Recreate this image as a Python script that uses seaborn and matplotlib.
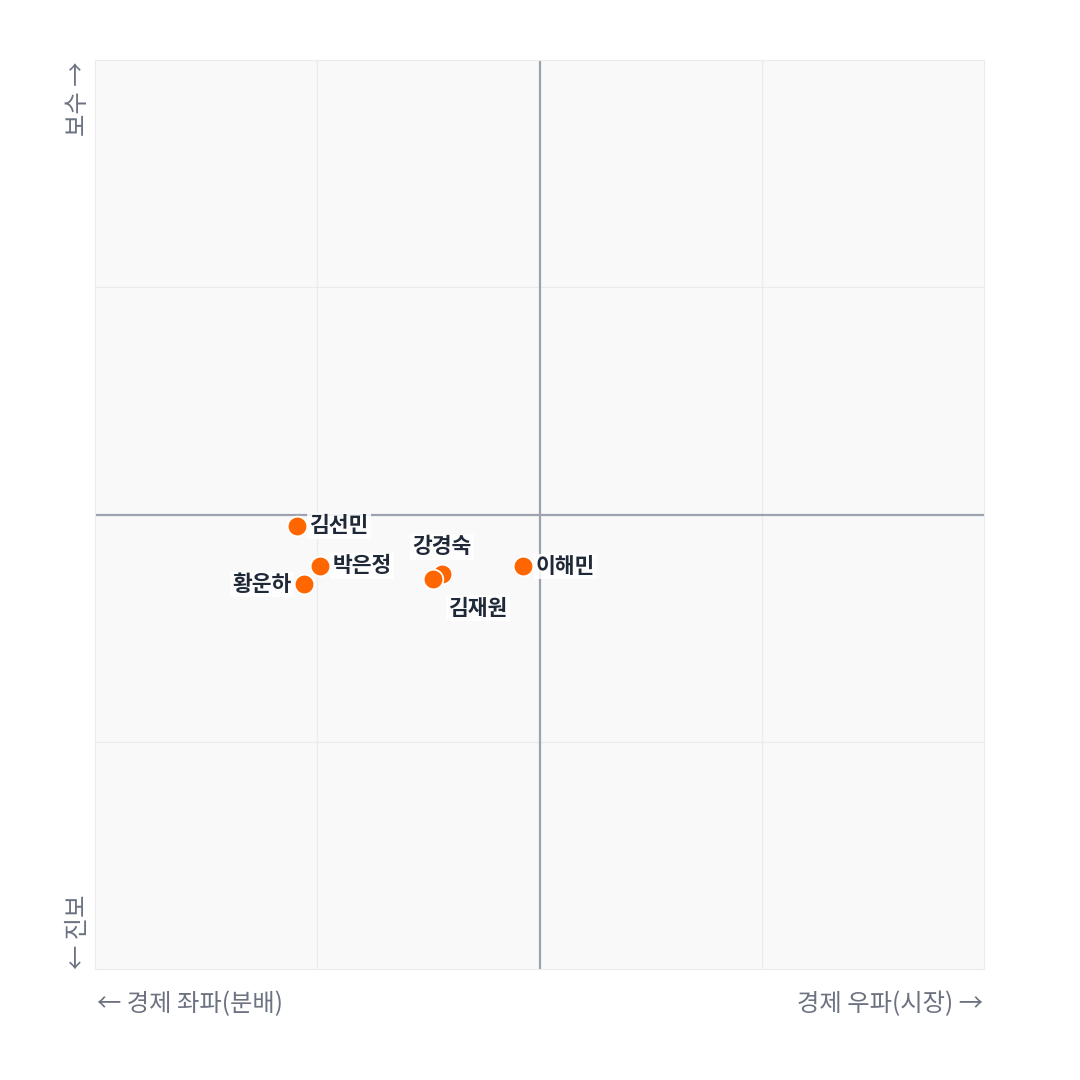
import pandas as pd
import seaborn as sns
import matplotlib.pyplot as plt

# politicians placed on economic (x) / social (y) axes
names = ["김선민", "박은정", "황운하", "강경숙", "김재원", "이해민"]
econ = [-0.546, -0.494, -0.530, -0.219, -0.240, -0.036]
social = [-0.025, -0.113, -0.154, -0.131, -0.143, -0.114]
label_side = ["right", "right", "left", "top", "bottom", "right"]

df = pd.DataFrame({"name": names, "econ": econ, "social": social, "side": label_side})

sns.set_style("white")
plt.rcParams['font.family'] = ['Noto Sans CJK KR', 'DejaVu Sans']

fig = plt.figure(figsize=(10.8, 10.8), dpi=100)
ax = fig.add_axes([95 / 1080, 111 / 1080, 889 / 1080, 909 / 1080])
ax.set_facecolor("#f9f9f9")

ax.set_xlim(-1, 1)
ax.set_ylim(-1, 1)
for v in (-0.5, 0.5):
    ax.axvline(v, color="#ebebeb", lw=0.9, zorder=0)
    ax.axhline(v, color="#ebebeb", lw=0.9, zorder=0)
ax.axvline(0, color="#9ca3af", lw=1.6, zorder=1)
ax.axhline(0, color="#9ca3af", lw=1.6, zorder=1)

sns.scatterplot(data=df, x="econ", y="social", ax=ax, s=200, color="#ff6600",
                edgecolor="white", linewidth=1.3, zorder=3, legend=False)

offsets = {"right": ((9, 0), "left", "center"),
           "left": ((-9, 0), "right", "center"),
           "top": ((0, 12), "center", "bottom"),
           "bottom": ((11, -13), "left", "top")}
bbox = dict(boxstyle="square,pad=0.1", fc="white", ec="none", alpha=0.85)
for _, r in df.iterrows():
    off, ha, va = offsets[r["side"]]
    ax.annotate(r["name"], (r["econ"], r["social"]), xytext=off, textcoords="offset points",
                ha=ha, va=va, fontsize=15.5, fontweight="bold", color="#1f2937",
                bbox=bbox, zorder=4)

ax.set_xticks([])
ax.set_yticks([])
ax.set_xlabel("")
ax.set_ylabel("")
for sp in ax.spines.values():
    sp.set_color("#ececec")
    sp.set_linewidth(0.8)

lab = dict(fontsize=17.5, color="#6b7280")
fig.text(97 / 1080, 1 - 1004 / 1080, "← 경제 좌파(분배)", ha="left", va="center", **lab)
fig.text(983 / 1080, 1 - 1004 / 1080, "경제 우파(시장) →", ha="right", va="center", **lab)
fig.text(78 / 1080, 1 - 62 / 1080, "보수 →", rotation=90, ha="center", va="top", **lab)
fig.text(78 / 1080, 1 - 969 / 1080, "← 진보", rotation=90, ha="center", va="bottom", **lab)

fig.savefig("out.png", dpi=100)
